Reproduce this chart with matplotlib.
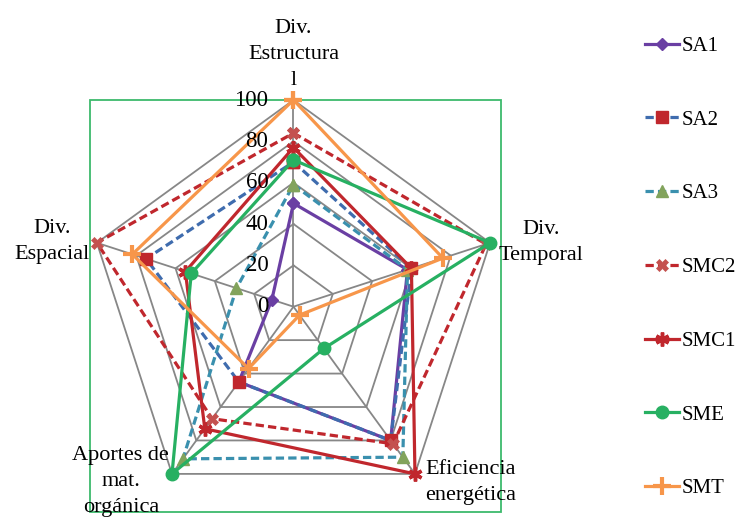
import numpy as np
import matplotlib.pyplot as plt
from matplotlib import patches

# Axes of the radar, clockwise from the top
categories = ["Div.\nEstructura\nl", "Div.\nTemporal", "Eficiencia\nenergética",
              "Aportes de\nmat.\norgánica", "Div.\nEspacial"]

sa1 = [50, 58, 80, 45, 11]
sa2 = [70, 60, 80, 45, 75]
sa3 = [59, 58, 90, 91, 29]
smc2 = [84, 98, 82, 67, 100]
smc1 = [77, 60, 100, 73, 55]
sme = [71, 100, 25, 100, 52]
smt = [100, 76, 5, 37, 82]

r_ticks = [0, 20, 40, 60, 80, 100]

FONT = "Liberation Serif"
GRID = "#878787"

# (label, values, line colour, linestyle, marker, marker colour, marker size, mew)
series = [
    ("SA1", sa1, "#6a3fa3", "-", "D", "#6a3fa3", 6.5, 1),
    ("SA2", sa2, "#3f6cae", "--", "s", "#c0272d", 8, 1),
    ("SA3", sa3, "#3a90ae", "--", "^", "#82a35c", 9, 1),
    ("SMC2", smc2, "#c0272d", "--", "X", "#c4514f", 9, 0.5),
    ("SMC1", smc1, "#c0272d", "-", (6, 2, 0), "#c0272d", 10, 2.5),
    ("SME", sme, "#27b062", "-", "o", "#27b062", 9, 1),
    ("SMT", smt, "#f7964a", "-", "+", "#f7964a", 13, 3),
]

fig = plt.figure(figsize=(7.4, 5.17), dpi=100)
fig.set_facecolor("white")

# plot area border
fig.add_artist(patches.Rectangle((0.1216, 0.0097), 0.5554, 0.797, fill=False,
                                 edgecolor="#3dba6c", lw=1.3, zorder=0))

ax = fig.add_axes([0.1173, 0.007, 0.5586, 0.7996], projection="polar")
ax.set_theta_offset(np.pi / 2)
ax.set_theta_direction(-1)
ax.set_ylim(0, 100)
ax.grid(False)
ax.spines["polar"].set_visible(False)
ax.set_xticks([])
ax.set_yticks([])
ax.patch.set_alpha(0)

angles = [2 * np.pi * i / len(categories) for i in range(len(categories))]
closed = angles + angles[:1]

# pentagon grid and spokes
for r in r_ticks[1:]:
    ax.plot(closed, [r] * len(closed), color=GRID, lw=1.3, zorder=1, clip_on=False)
for a in angles:
    ax.plot([a, a], [0, 100], color=GRID, lw=1.3, zorder=1, clip_on=False)

# radial tick labels along the top axis
for r in r_ticks:
    ax.annotate(str(r), xy=(0, r), xytext=(-18, 0), textcoords="offset points",
                ha="right", va="center", fontsize=16.5, family=FONT, zorder=20)

for label, vals, col, ls, mk, mcol, ms, mew in series:
    ax.plot(closed, vals + vals[:1], color=col, ls=ls, lw=2.3,
            dashes=(2.6, 1.3) if ls == "--" else (None, None),
            marker=mk, markersize=ms, markerfacecolor=mcol, markeredgecolor=mcol,
            markeredgewidth=mew, label=label, clip_on=False, zorder=5)

# category labels around the pentagon
label_pos = [
    (0, 7, "center", "bottom"),
    (6, 0.5, "left", "center"),
    (7, -6, "left", "center"),
    (-2, -5.5, "right", "center"),
    (-5, 1, "right", "center"),
]
for a, text, (dx, dy, ha, va) in zip(angles, categories, label_pos):
    ax.annotate(text, xy=(a, 100), xytext=(dx, dy), textcoords="offset points",
                ha=ha, va=va, multialignment="center", linespacing=1.5,
                fontsize=16, family=FONT, annotation_clip=False)

handles, labels = ax.get_legend_handles_labels()
fig.legend(handles, labels, loc="upper left", bbox_to_anchor=(0.86, 0.946),
           frameon=False, handlelength=1.65, handletextpad=0.12, labelspacing=2.6,
           borderaxespad=0, prop={"family": FONT, "size": 15})

fig.savefig("out.png", dpi=100)
